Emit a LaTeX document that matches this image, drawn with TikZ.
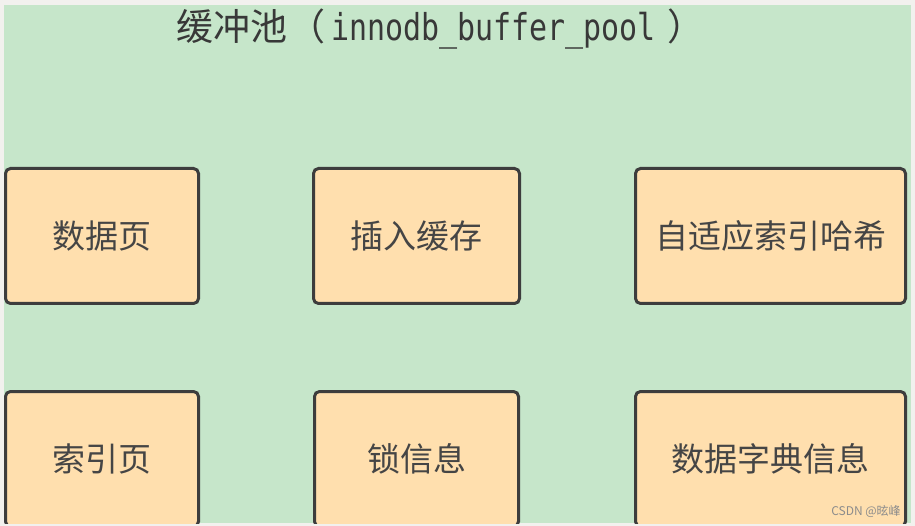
\documentclass[tikz,border=0pt]{standalone}
\usepackage{fontspec}
\newfontfamily\cjk{Noto Sans CJK SC}
\newfontfamily\tmono[FakeStretch=0.81]{DejaVu Sans Mono}
\definecolor{outerbg}{HTML}{F2F1EE}
\definecolor{poolgreen}{HTML}{C6E6CA}
\definecolor{boxfill}{HTML}{FFDFAE}
\definecolor{boxline}{HTML}{3D3D3D}
\definecolor{txt}{HTML}{454545}
\tikzset{
  membox/.style={draw=boxline, fill=boxfill, line width=3pt, rounded corners=5pt,
    minimum height=135pt, inner sep=0pt, text=txt, font=\cjk\fontsize{33}{38}\selectfont},
}
\begin{document}
\begin{tikzpicture}[x=1pt,y=-1pt]
\useasboundingbox (0,0) rectangle (915,526);
\fill[outerbg] (0,0) rectangle (915,526);
\begin{scope}
\clip (4,5) rectangle (911,523);
\fill[poolgreen] (4,5) rectangle (911,523);
\node[membox, minimum width=193pt] (dp) at (102,236) {数据页};
\node[membox, minimum width=206pt] (ib) at (416.5,236) {插入缓存};
\node[membox, minimum width=270pt] (ah) at (770.5,236) {自适应索引哈希};
\node[membox, minimum width=193pt] (ip) at (102,459) {索引页};
\node[membox, minimum width=204pt] (lk) at (416.5,459) {锁信息};
\node[membox, minimum width=270pt] (dd) at (770.5,459) {数据字典信息};
\end{scope}
\node[anchor=base west, inner sep=0pt, text=black!78] (title) at (176,41)
  {\fontsize{37}{42}\selectfont\cjk 缓冲池\hspace{1pt}（\hspace{6pt}\tmono innodb\_buffer\_pool\hspace{12pt}\cjk ）};
\node[inner sep=0pt, text=black!45] (wm) at (866,511) {\cjk\fontsize{12}{14}\selectfont CSDN @昡峰};
\end{tikzpicture}
\end{document}
